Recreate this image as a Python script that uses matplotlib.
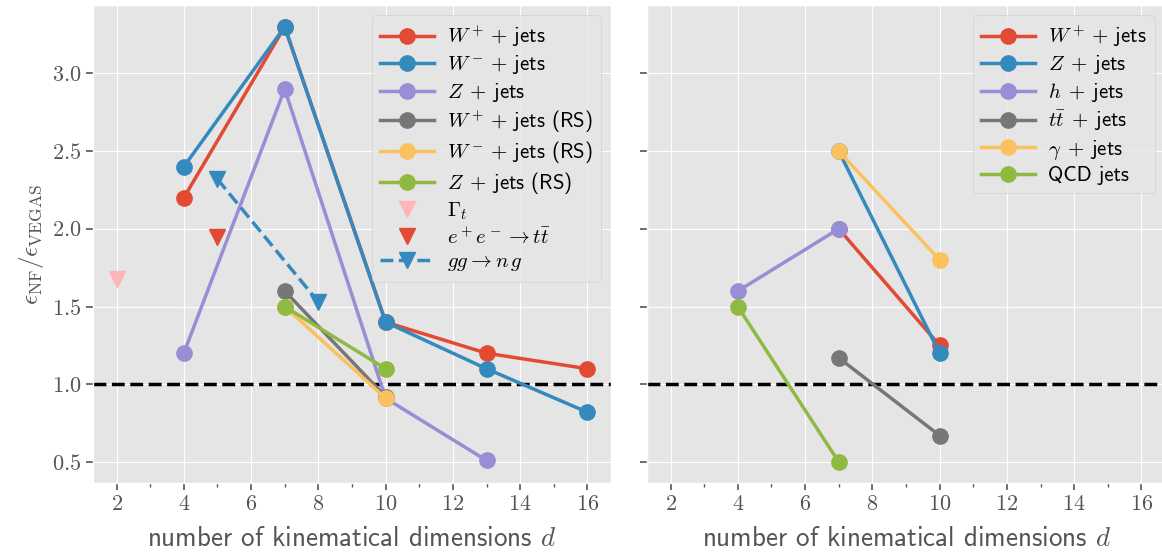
import numpy as np
import matplotlib
matplotlib.use("Agg")
import matplotlib.pyplot as plt
from matplotlib.ticker import MultipleLocator, FormatStrFormatter

plt.style.use("ggplot")
plt.rcParams["mathtext.fontset"] = "cm"
plt.rcParams["font.family"] = ["cmss10", "DejaVu Sans"]
plt.rcParams["axes.formatter.use_mathtext"] = True

# left panel data
d_wp = [4, 7, 10, 13, 16]
wp = [2.2, 3.3, 1.4, 1.2, 1.1]
d_wm = [4, 7, 10, 13, 16]
wm = [2.4, 3.3, 1.4, 1.1, 0.82]
d_z = [4, 7, 10, 13]
z = [1.2, 2.9, 0.91, 0.51]
d_rs = [7, 10]
wp_rs = [1.6, 0.92]
wm_rs = [1.5, 0.91]
z_rs = [1.5, 1.1]
d_gamma_t = [2]
gamma_t = [1.68]
d_ee = [5]
ee_tt = [1.95]
d_gg = [5, 8]
gg_ng = [2.32, 1.53]

# right panel data
r_wp_d = [7, 10]
r_wp = [2.0, 1.25]
r_z_d = [7, 10]
r_z = [2.5, 1.2]
r_h_d = [4, 7]
r_h = [1.6, 2.0]
r_tt_d = [7, 10]
r_tt = [1.17, 0.67]
r_gam_d = [7, 10]
r_gam = [2.5, 1.8]
r_qcd_d = [4, 7]
r_qcd = [1.5, 0.5]

c = ["#E24A33", "#348ABD", "#988ED5", "#777777", "#FBC15E", "#8EBA42", "#FFB5B8"]

fig = plt.figure(figsize=(11.62, 5.57), dpi=100)
ax1 = fig.add_axes([0.0800, 0.1329, 0.4458, 0.858])
ax2 = fig.add_axes([0.5568, 0.1329, 0.4458, 0.858], sharey=ax1)

lw = 2.5
ms = 11
kw = dict(lw=lw, marker="o", ms=ms)

ax1.plot(d_wp, wp, color=c[0], label=r"$W^+\:+$ jets", **kw)
ax1.plot(d_wm, wm, color=c[1], label=r"$W^-\:+$ jets", **kw)
ax1.plot(d_z, z, color=c[2], label=r"$Z\;+\!$ jets", **kw)
ax1.plot(d_rs, wp_rs, color=c[3], label=r"$W^+\:+$ jets (RS)", **kw)
ax1.plot(d_rs, wm_rs, color=c[4], label=r"$W^-\:+$ jets (RS)", **kw)
ax1.plot(d_rs, z_rs, color=c[5], label=r"$Z\;+\!$ jets (RS)", **kw)
ax1.plot(d_gamma_t, gamma_t, ls="none", marker="v", ms=ms, color=c[6], label=r"$\Gamma_t$")
ax1.plot(d_ee, ee_tt, ls="none", marker="v", ms=ms, color=c[0], label=r"$e^+e^- \to t\bar{t}$")
ax1.plot(d_gg, gg_ng, ls="--", lw=lw, marker="v", ms=ms, color=c[1], label=r"$gg \to n\,g$")

ax2.plot(r_wp_d, r_wp, color=c[0], label=r"$W^+\:+$ jets", **kw)
ax2.plot(r_z_d, r_z, color=c[1], label=r"$Z\;+\!$ jets", **kw)
ax2.plot(r_h_d, r_h, color=c[2], label=r"$h\;+\!$ jets", **kw)
ax2.plot(r_tt_d, r_tt, color=c[3], label=r"$t\bar{t}\;+\!$ jets", **kw)
ax2.plot(r_gam_d, r_gam, color=c[4], label=r"$\gamma\;+\!$ jets", **kw)
ax2.plot(r_qcd_d, r_qcd, color=c[5], label="QCD jets", **kw)

for ax in (ax1, ax2):
    ax.axhline(1.0, color="black", ls="--", lw=2.5, zorder=1)
    ax.set_xlim(1.3, 16.7)
    ax.xaxis.set_major_locator(MultipleLocator(2))
    ax.xaxis.set_minor_locator(MultipleLocator(1))
    ax.xaxis.set_major_formatter(FormatStrFormatter("$%d$"))
    ax.tick_params(axis="both", which="major", labelsize=16, length=5, width=1.2, colors="#555555")
    ax.tick_params(axis="x", which="minor", length=3, width=1, colors="#555555")
    ax.set_xlabel(r"number of kinematical dimensions $d$", fontsize=19.5, color="#555555",
                  labelpad=9)

ax1.set_ylim(0.365, 3.44)
ax1.yaxis.set_major_locator(MultipleLocator(0.5))
ax1.yaxis.set_major_formatter(FormatStrFormatter("$%.1f$"))
ax1.set_ylabel(r"$\epsilon_{\rm NF}/\epsilon_{\rm VEGAS}$", fontsize=18, color="#555555")
plt.setp(ax2.get_yticklabels(), visible=False)

ax1.legend(loc="upper right", fontsize=15, handlelength=2.6, handletextpad=0.6, labelspacing=0.22)
ax2.legend(loc="upper right", fontsize=15, handlelength=2.6, handletextpad=0.6, labelspacing=0.22)

fig.savefig("out.png", dpi=100)
